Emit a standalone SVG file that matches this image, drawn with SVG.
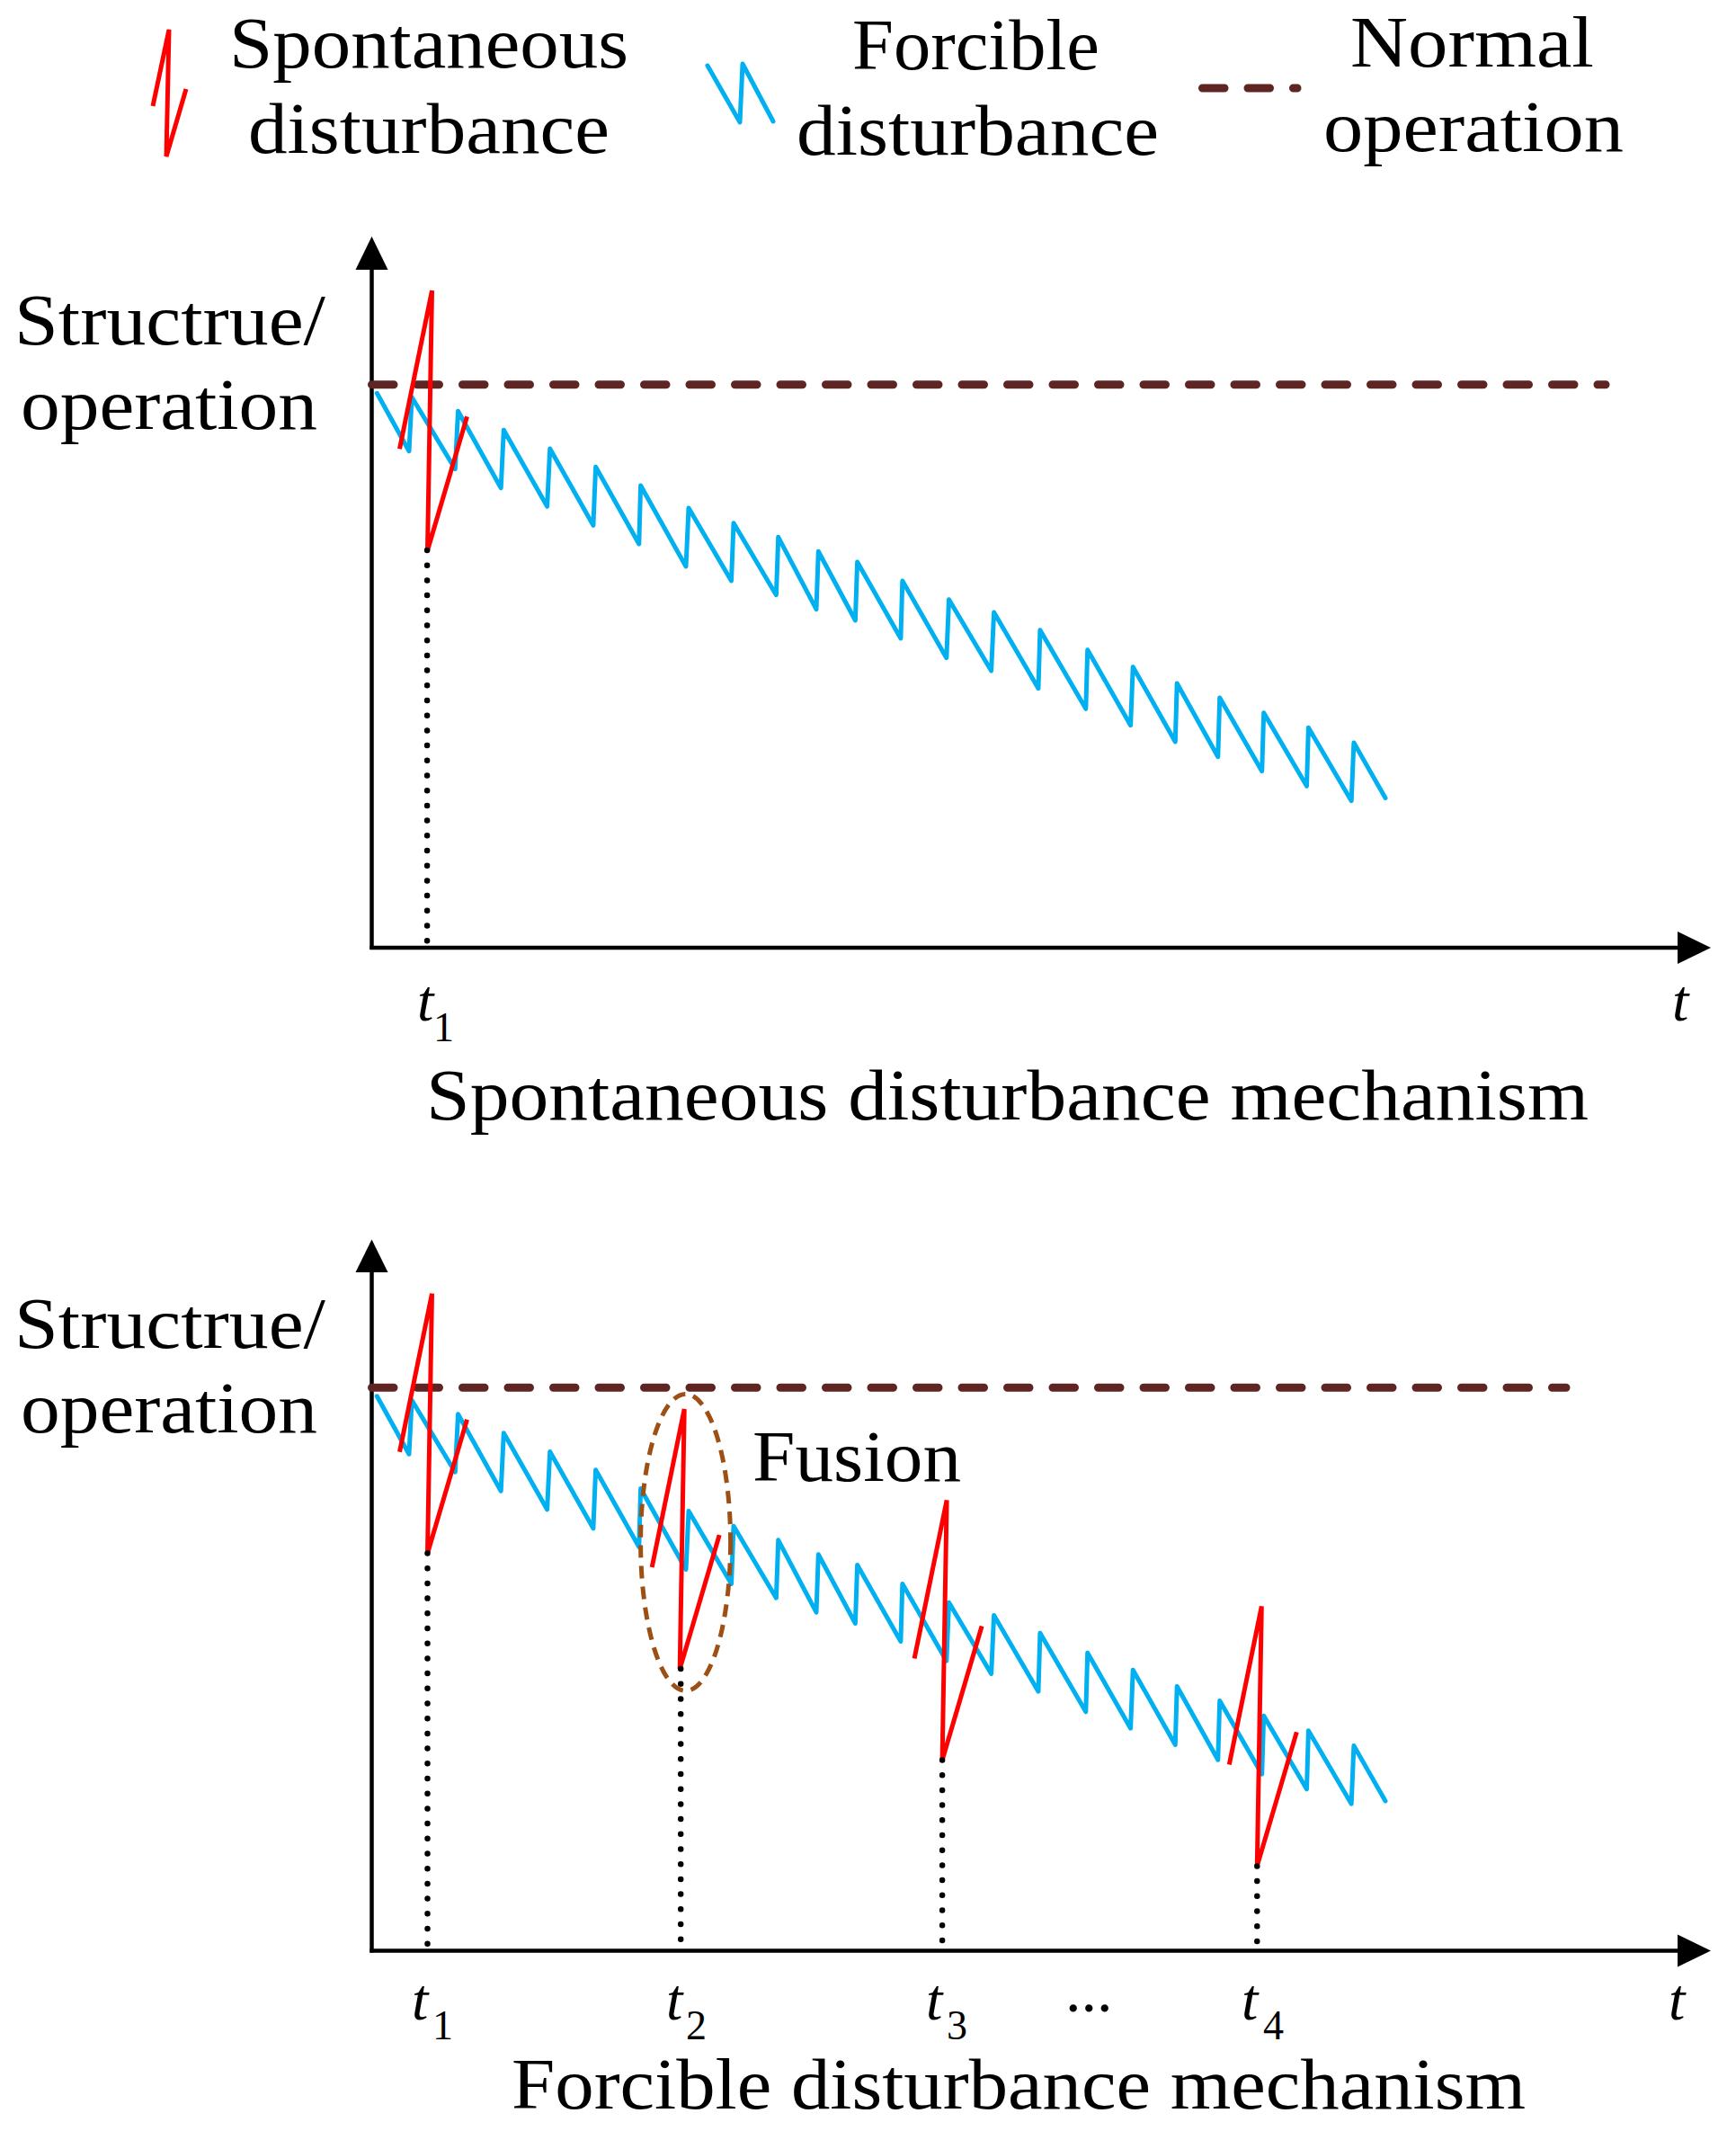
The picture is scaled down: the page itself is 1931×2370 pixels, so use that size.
<svg xmlns="http://www.w3.org/2000/svg" xmlns:xlink="http://www.w3.org/1999/xlink" width="1931" height="2370" viewBox="0 0 1931 2370">
<style>
.txt{font-family:"Liberation Serif","DejaVu Serif",serif;font-size:80px;fill:#000}
.it{font-family:"Liberation Serif","DejaVu Serif",serif;font-style:italic;font-size:66px;fill:#000}
.sub{font-family:"Liberation Serif","DejaVu Serif",serif;font-size:46px;fill:#000}
.axis{stroke:#000;stroke-width:4.5;fill:none}
.arrow{fill:#000;stroke:none}
.norm{stroke:#5E2522;stroke-width:9;stroke-linecap:round;stroke-dasharray:24.5 26;fill:none}
.force{stroke:#00B0F0;stroke-width:5;fill:none;stroke-linejoin:round;stroke-linecap:round}
.spont{stroke:#FF0000;stroke-width:5;fill:none;stroke-linejoin:miter;stroke-miterlimit:4}
.drop{stroke:#000;stroke-width:6.5;stroke-linecap:round;stroke-dasharray:0 16.7;fill:none}
.fusion{stroke:#9E5014;stroke-width:5;stroke-dasharray:14 9;fill:none}
</style>
<defs>
<path id="spike" d="M0,0 L36,-176 L31,113 L75,-36"/>
<path id="saw" d="M419.3,437.3 L455,501.7 L458.1,441.7 L506.3,521.7 L509.5,457.3 L557.2,542.7 L560.3,478.3 L608.6,563.3 L611.7,499 L659.9,584.3 L662.6,519.3 L710.8,605 L712.6,540 L763,630 L766,565 L813.5,646 L816,581.7 L863.4,661.7 L865.7,597.3 L908,677.7 L910.3,613.3 L951.4,690 L953.6,625 L1001.9,710 L1003.8,646 L1052.8,731.7 L1055.5,666.7 L1102.6,746 L1105.6,681 L1155,765.7 L1156.9,700.7 L1207.8,788.3 L1209.7,722.7 L1257.6,806.7 L1260.2,741.7 L1307.3,825 L1309.2,760 L1354.8,841.7 L1356.7,776 L1403.7,857.7 L1405.7,792.7 L1453.5,874.3 L1455.4,809.3 L1503.2,890.7 L1505.9,826 L1541,887.5"/>
</defs>

<g id="legend">
  <g id="legend-spontaneous">
    <polyline class="spont" points="170,118 188,33 185,174 207,99"/>
    <text class="txt" x="255" y="75" textLength="444" lengthAdjust="spacingAndGlyphs">Spontaneous</text>
    <text class="txt" x="276" y="170" textLength="402" lengthAdjust="spacingAndGlyphs">disturbance</text>
  </g>
  <g id="legend-forcible">
    <polyline class="force" points="787,73 823,136 826,71 860,135"/>
    <text class="txt" x="948" y="77" textLength="275" lengthAdjust="spacingAndGlyphs">Forcible</text>
    <text class="txt" x="886" y="172" textLength="403" lengthAdjust="spacingAndGlyphs">disturbance</text>
  </g>
  <g id="legend-normal">
    <line class="norm" x1="1337.5" y1="98" x2="1443" y2="98"/>
    <text class="txt" x="1502" y="74" textLength="271" lengthAdjust="spacingAndGlyphs">Normal</text>
    <text class="txt" x="1472" y="168" textLength="334" lengthAdjust="spacingAndGlyphs">operation</text>
  </g>
</g>

<g id="chart-spontaneous">
  <g id="axes-top">
    <line class="axis" x1="413.5" y1="1056" x2="413.5" y2="296"/>
    <polygon class="arrow" points="413.5,263 395.5,300 431.5,300"/>
    <line class="axis" x1="411.3" y1="1054" x2="1868" y2="1054"/>
    <polygon class="arrow" points="1903,1054 1866,1036 1866,1072"/>
    <text class="txt" x="16" y="383" textLength="346" lengthAdjust="spacingAndGlyphs">Structrue/</text>
    <text class="txt" x="23" y="477" textLength="330" lengthAdjust="spacingAndGlyphs">operation</text>
    <text class="it" x="464" y="1135">t</text>
    <text class="sub" x="482" y="1158">1</text>
    <text class="it" x="1860" y="1135">t</text>
    <text class="txt" x="474" y="1245" textLength="1293" lengthAdjust="spacingAndGlyphs">Spontaneous disturbance mechanism</text>
  </g>
  <g id="curves-top">
    <line class="norm" x1="413.5" y1="427.7" x2="1786" y2="427.7"/>
    <use xlink:href="#saw" class="force"/>
    <use xlink:href="#spike" class="spont" x="444.5" y="499.3"/>
    <line class="drop" x1="475.1" y1="612" x2="475.1" y2="1051"/>
  </g>
</g>

<g id="chart-forcible">
  <g id="axes-bottom">
    <line class="axis" x1="413.5" y1="2171.5" x2="413.5" y2="1411"/>
    <polygon class="arrow" points="413.5,1378.5 395.5,1415 431.5,1415"/>
    <line class="axis" x1="411.3" y1="2169.5" x2="1868" y2="2169.5"/>
    <polygon class="arrow" points="1903,2169.5 1866,2151.5 1866,2187.5"/>
    <text class="txt" x="16" y="1498.5" textLength="346" lengthAdjust="spacingAndGlyphs">Structrue/</text>
    <text class="txt" x="23" y="1592.5" textLength="330" lengthAdjust="spacingAndGlyphs">operation</text>
    <text class="it" x="458" y="2246">t</text>
    <text class="sub" x="481" y="2268">1</text>
    <text class="it" x="741" y="2246">t</text>
    <text class="sub" x="763" y="2268">2</text>
    <text class="it" x="1030" y="2246">t</text>
    <text class="sub" x="1053" y="2268">3</text>
    <text class="txt" x="1185" y="2237" style="font-size:70px">...</text>
    <text class="it" x="1381" y="2246">t</text>
    <text class="sub" x="1405" y="2268">4</text>
    <text class="it" x="1856" y="2246">t</text>
    <text class="txt" x="569" y="2345" textLength="1128" lengthAdjust="spacingAndGlyphs">Forcible disturbance mechanism</text>
  </g>
  <g id="curves-bottom">
    <line class="norm" x1="413.5" y1="1543.2" x2="1742" y2="1543.2"/>
    <use xlink:href="#saw" class="force" y="1115.5"/>
    <use xlink:href="#spike" class="spont" x="444.5" y="1614.8"/>
    <use xlink:href="#spike" class="spont" x="725.2" y="1743.1"/>
    <use xlink:href="#spike" class="spont" x="1017.1" y="1844.5"/>
    <use xlink:href="#spike" class="spont" x="1367.3" y="1962.4"/>
    <line class="drop" x1="475.5" y1="1727.5" x2="475.5" y2="2166"/>
    <line class="drop" x1="757.2" y1="1856.1" x2="757.2" y2="2166"/>
    <line class="drop" x1="1048.1" y1="1957.5" x2="1048.1" y2="2166"/>
    <line class="drop" x1="1398.3" y1="2075.4" x2="1398.3" y2="2166"/>
  </g>
  <g id="fusion">
    <ellipse class="fusion" cx="762.6" cy="1715.4" rx="50" ry="165"/>
    <text class="txt" x="837" y="1647" textLength="232" lengthAdjust="spacingAndGlyphs">Fusion</text>
  </g>
</g>
</svg>
